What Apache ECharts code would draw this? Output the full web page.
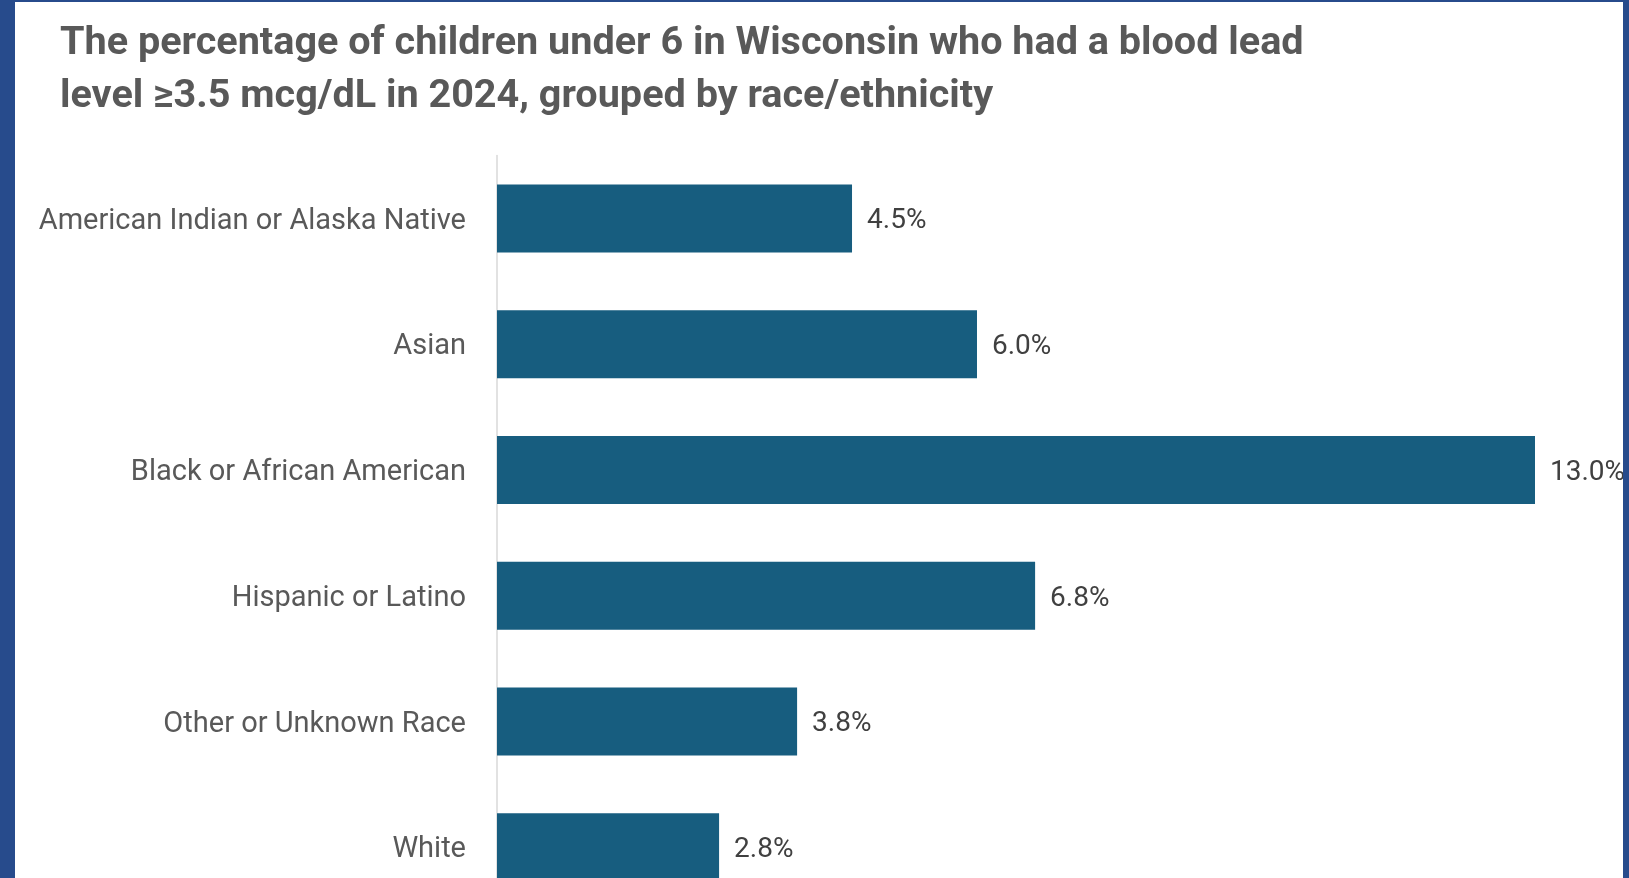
<!DOCTYPE html>
<html><head><meta charset="utf-8">
<script src="https://cdn.jsdelivr.net/npm/echarts@6/dist/echarts.min.js"></script>
<style>
html,body{margin:0;padding:0;width:1629px;height:878px;overflow:hidden;background:#274b8c;position:relative;}
#chart{position:absolute;left:15px;top:2px;width:1608px;height:908px;background:#fff;}
</style></head>
<body><div id="chart"></div>
<script>
const titleLines = ["The percentage of children under 6 in Wisconsin who had a blood lead", "level \u22653.5 mcg/dL in 2024, grouped by race/ethnicity"];
const categories = ["American Indian or Alaska Native", "Asian", "Black or African American", "Hispanic or Latino", "Other or Unknown Race", "White"];
const values = [4.46, 6.03, 13.04, 6.76, 3.77, 2.79];

const chart = echarts.init(document.getElementById('chart'));
chart.setOption({
  backgroundColor: '#ffffff',
  animation: false,
  title: {
    text: titleLines.join('\n'),
    left: 45, top: 16, padding: 0,
    textStyle: {fontFamily: 'Roboto', fontWeight: 'bold', fontSize: 39.6, lineHeight: 53, color: '#595959'}
  },
  grid: {left: 482, top: 153.6, right: 88, bottom: 0, containLabel: false},
  xAxis: {type: 'value', min: 0, max: 'dataMax', show: false},
  yAxis: {
    type: 'category', data: categories, inverse: true,
    axisLine: {show: true, lineStyle: {color: '#d9d9d9', width: 1.5}},
    axisTick: {show: false},
    axisLabel: {margin: 31, fontFamily: 'Roboto', fontSize: 29, color: '#595959',
      formatter: v => '{a|' + v + '}',
      rich: {a: {fontFamily: 'Roboto', fontSize: 29, color: '#595959', padding: [6, 0, 0, 0]}}}
  },
  series: [{
    type: 'bar', data: values, barWidth: 68,
    itemStyle: {color: '#175d7f'},
    label: {show: true, position: 'right', distance: 15, offset: [0, 3], fontFamily: 'Roboto', fontSize: 28, color: '#404040',
      formatter: p => p.value.toFixed(1) + '%'}
  }]
});
</script></body></html>
